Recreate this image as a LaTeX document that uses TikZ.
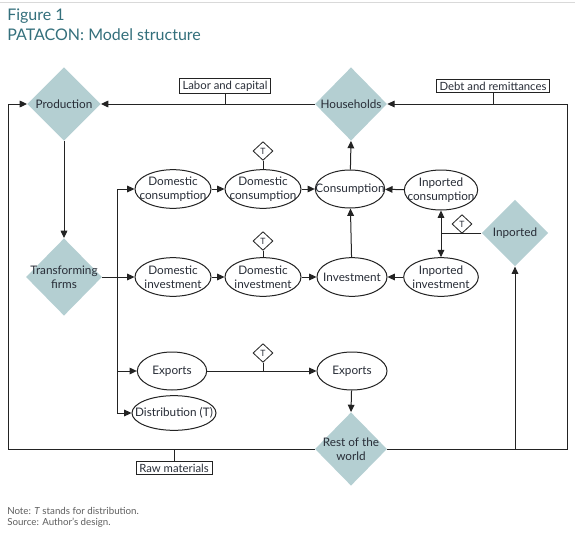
\documentclass[tikz,border=0pt]{standalone}
\usepackage{fontspec}
\setmainfont{Lato}
\usetikzlibrary{shapes.geometric,arrows.meta}
\definecolor{dfill}{RGB}{180,207,210}
\definecolor{ttl}{RGB}{52,112,124}
\definecolor{ln}{RGB}{35,35,35}
\definecolor{txt}{RGB}{40,45,55}
\definecolor{note}{RGB}{95,95,95}
\begin{document}
\begin{tikzpicture}[x=0.75pt,y=-0.75pt,
  bigdia/.style={diamond, fill=dfill, minimum width=55pt, minimum height=55pt, inner sep=0pt},
  dtext/.style={font=\fontsize{8.8}{10.5}\selectfont, text=txt, align=center},
  ell/.style={ellipse, draw=ln, line width=0.75pt, inner sep=0pt, minimum width=57pt, minimum height=29pt},
  etext/.style={font=\fontsize{8.8}{10.5}\selectfont, text=txt, align=center, inner sep=0pt},
  tdia/.style={diamond, draw=ln, line width=0.6pt, fill=white, minimum width=15pt, minimum height=14pt,
               inner sep=0pt, font=\fontsize{6.5}{7}\selectfont, text=txt},
  lbox/.style={draw=ln, line width=0.6pt, rectangle, inner xsep=2.5pt, inner ysep=1.8pt, text=txt,
               font=\fontsize{8.5}{10}\selectfont},
  conn/.style={draw=ln, line width=0.75pt},
  arr/.style={conn, -{Triangle[length=5.5pt,width=5pt]}}]
\useasboundingbox (0,0) rectangle (575,539);
\fill[white] (0,0) rectangle (575,539);
\draw[black!15, line width=0.5pt] (0,2) -- (575,2);
% titles
\node[anchor=base west, inner sep=0pt, text=ttl, font=\fontsize{12}{14}\selectfont] (fig) at (7,21) {Figure 1};
\node[anchor=base west, inner sep=0pt, text=ttl, font=\fontsize{12}{14}\selectfont] (sub) at (7,40) {PATACON: Model structure};
% big diamonds
\node[bigdia] (prod) at (64,104) {};
\node[dtext] (prodt) at (prod) {Production};
\node[bigdia, minimum width=57pt, minimum height=58pt] (tf) at (64,277) {};
\node[dtext] (tft) at (tf) {Transforming\\firms};
\node[bigdia, minimum width=54pt] (hh) at (351,104) {};
\node[dtext] (hht) at (hh) {Households};
\node[bigdia, minimum width=50pt, minimum height=50pt] (imp) at (515,233) {};
\node[dtext] (impt) at (imp) {Inported};
\node[bigdia, minimum width=54pt] (row) at (351,449) {};
\node[dtext] (rowt) at (row) {Rest of the\\world};
% ellipses
\node[ell] (dc1) at (173,189) {};
\node[etext] (dc1t) at (dc1) {Domestic\\consumption};
\node[ell] (dc2) at (263,189) {};
\node[etext] (dc2t) at (dc2) {Domestic\\consumption};
\node[ell, minimum width=52pt, minimum height=28.5pt] (cons) at (350,189) {};
\node[etext] (const) at (cons) {Consumption};
\node[ell, minimum width=55pt, minimum height=30pt] (ic) at (441,190) {};
\node[etext] (ict) at (ic) {Inported\\consumption};
\node[ell] (di1) at (173,277) {};
\node[etext] (di1t) at (di1) {Domestic\\investment};
\node[ell] (di2) at (263,277) {};
\node[etext] (di2t) at (di2) {Domestic\\investment};
\node[ell, minimum width=52.5pt] (inv) at (352,277) {};
\node[etext] (invt) at (inv) {Investment};
\node[ell, minimum width=56pt] (ii) at (441,277) {};
\node[etext] (iit) at (ii) {Inported\\investment};
\node[ell, minimum width=52pt, minimum height=28.5pt] (ex1) at (172,371) {};
\node[etext] (ex1t) at (ex1) {Exports};
\node[ell, minimum width=52.5pt, minimum height=28.5pt] (ex2) at (352,371) {};
\node[etext] (ex2t) at (ex2) {Exports};
\node[ell, minimum width=63pt, minimum height=26pt] (dist) at (174,413) {};
\node[etext] (distt) at (dist) {Distribution (T)};
% small T diamonds
\node[tdia] (t1) at (263,151) {T};
\node[tdia] (t2) at (263,241) {T};
\node[tdia] (t3) at (263,353) {T};
\node[tdia] (t4) at (462,224) {T};
% label boxes
\node[lbox] (lab) at (225,86) {Labor and capital};
\node[lbox] (debt) at (493,86) {Debt and remittances};
\node[lbox] (raw) at (174,468) {Raw materials};
% coordinates
\coordinate (L1) at (8,104);
\coordinate (L2) at (8,449);
\coordinate (R1) at (567,104);
\coordinate (R2) at (567,449);
\coordinate (B5) at (515,449);
\coordinate (J1) at (117,189);
\coordinate (J3) at (117,371);
\coordinate (J4) at (117,413);
\coordinate (J5) at (441,233);
\coordinate (X3) at (263,371);
% outer frame
\draw[arr] (hh.west) -- (prod.east);
\draw[conn] (lab.south) -- (lab.south |- prod.east);
\draw[arr] (R1) -- (hh.east);
\draw[conn] (debt.south) -- (debt.south |- hh.east);
\draw[conn] (R1) -- (R2) -- (row.east);
\draw[conn] (row.west) -- (L2) -- (L1);
\draw[arr] (L1) -- (prod.west);
\draw[conn] (raw.north) -- (raw.north |- row.west);
\draw[arr] (B5) -- (imp.south);
% production chain
\draw[arr] (prod.south) -- (tf.north);
\draw[arr] (tf.east) -- (di1.west);
\draw[conn] (J1) -- (J4);
\draw[arr] (J1) -- (dc1.west);
\draw[arr] (J3) -- (ex1.west);
\draw[arr] (J4) -- (dist.west);
\draw[arr] (dc1) -- (dc2);
\draw[arr] (dc2) -- (cons);
\draw[arr] (ic) -- (cons);
\draw[arr] (cons) -- (hh.south);
\draw[arr] (inv) -- (cons);
\draw[arr] (di1) -- (di2);
\draw[arr] (di2) -- (inv);
\draw[arr] (ii) -- (inv);
\draw[arr] (ex1) -- (ex2);
\draw[arr] (ex2) -- (row.north);
\draw[conn] (imp.west) -- (J5);
\draw[arr] (J5) -- (ic.south);
\draw[arr] (J5) -- (ii.north);
% T stems
\draw[conn] (t1.south) -- (dc2.north);
\draw[conn] (t2.south) -- (di2.north);
\draw[conn] (t3.south) -- (X3);
% footer
\node[anchor=base west, inner sep=0pt, text=note, font=\fontsize{7.3}{8}\selectfont] (nt) at (7,514) {Note: \textit{T} stands for distribution.};
\node[anchor=base west, inner sep=0pt, text=note, font=\fontsize{7.3}{8}\selectfont] (src) at (7,525) {Source: Author’s design.};
\end{tikzpicture}
\end{document}
